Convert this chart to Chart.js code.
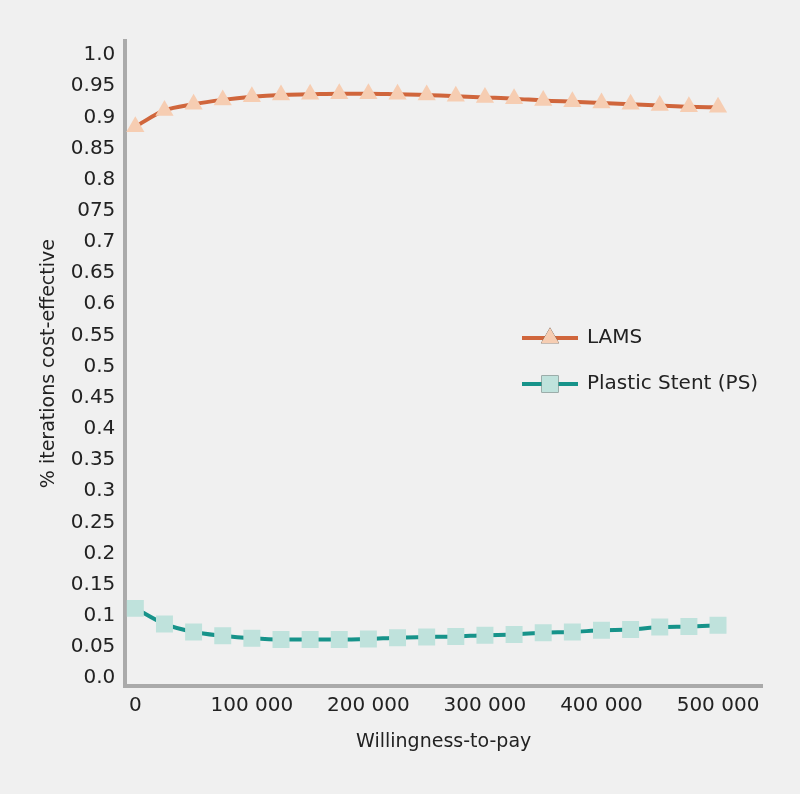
<!DOCTYPE html>
<html>
<head>
<meta charset="utf-8">
<script src="https://cdn.jsdelivr.net/npm/chart.js@4.4.1/dist/chart.umd.min.js"></script>
<style>
  html, body { margin: 0; padding: 0; background: #f0f0f0; }
  #wrap { width: 800px; height: 794px; }
</style>
</head>
<body>
<div id="wrap"><canvas id="chart" width="800" height="794"></canvas></div>
<script>
// willingness-to-pay steps
const wtp = [0, 25000, 50000, 75000, 100000, 125000, 150000, 175000, 200000, 225000,
  250000, 275000, 300000, 325000, 350000, 375000, 400000, 425000, 450000, 475000, 500000];

const lams = [0.885, 0.911, 0.921, 0.928, 0.933, 0.936, 0.937, 0.938, 0.938, 0.937,
  0.936, 0.934, 0.932, 0.930, 0.927, 0.925, 0.923, 0.921, 0.919, 0.917, 0.916];

const plasticStent = [0.112, 0.087, 0.074, 0.068, 0.064, 0.062, 0.062, 0.062, 0.063, 0.065,
  0.066, 0.067, 0.069, 0.070, 0.073, 0.074, 0.077, 0.078, 0.082, 0.083, 0.085];

const yTickValues = [0, 0.05, 0.1, 0.15, 0.2, 0.25, 0.3, 0.35, 0.4, 0.45, 0.5,
  0.55, 0.6, 0.65, 0.7, 0.75, 0.8, 0.85, 0.9, 0.95, 1.0];
const yTickLabels = ["0.0", "0.05", "0.1", "0.15", "0.2", "0.25", "0.3", "0.35", "0.4", "0.45", "0.5",
  "0.55", "0.6", "0.65", "0.7", "075", "0.8", "0.85", "0.9", "0.95", "1.0"];

const xTickValues = [0, 100000, 200000, 300000, 400000, 500000];
const xTickLabels = ["0", "100 000", "200 000", "300 000", "400 000", "500 000"];

const FONT = "'DejaVu Sans', sans-serif";

const toPoints = (vals) => vals.map((v, i) => ({ x: wtp[i], y: v }));

// legend drawn inside the plot, right of centre
const insideLegend = {
  id: "insideLegend",
  afterDatasetsDraw(chart) {
    const { ctx } = chart;
    const x0 = 522, x1 = 578, tx = 587;
    const rows = [338, 384];
    chart.data.datasets.forEach((ds, i) => {
      const y = rows[i];
      ctx.save();
      ctx.strokeStyle = ds.borderColor;
      ctx.lineWidth = ds.borderWidth;
      ctx.beginPath();
      ctx.moveTo(x0, y);
      ctx.lineTo(x1, y);
      ctx.stroke();
      Chart.helpers.drawPoint(ctx, {
        pointStyle: ds.pointStyle,
        radius: ds.pointRadius,
        rotation: 0,
        borderWidth: 0,
      }, (x0 + x1) / 2, y);
      ctx.fillStyle = ds.pointBackgroundColor;
      ctx.fill();
      ctx.fillStyle = "#222";
      ctx.font = "20px " + FONT;
      ctx.textBaseline = "middle";
      ctx.textAlign = "left";
      ctx.fillText(ds.label, tx, y);
      ctx.restore();
    });
  },
};

const bg = {
  id: "bg",
  beforeDraw(chart) {
    const { ctx, width, height } = chart;
    ctx.save();
    ctx.fillStyle = "#f0f0f0";
    ctx.fillRect(0, 0, width, height);
    ctx.restore();
  },
};

new Chart(document.getElementById("chart").getContext("2d"), {
  type: "line",
  data: {
    datasets: [
      {
        label: "LAMS",
        data: toPoints(lams),
        borderColor: "#d0663c",
        borderWidth: 4,
        pointStyle: "triangle",
        pointRadius: 10.5,
        pointBorderWidth: 0,
        pointBackgroundColor: "#f6cdb2",
        pointBorderColor: "#f6cdb2",
        tension: 0.4,
        cubicInterpolationMode: "monotone",
      },
      {
        label: "Plastic Stent (PS)",
        data: toPoints(plasticStent),
        borderColor: "#17938a",
        borderWidth: 4,
        pointStyle: "rect",
        pointRadius: 12,
        pointBorderWidth: 0,
        pointBackgroundColor: "#bfe2dc",
        pointBorderColor: "#bfe2dc",
        tension: 0.4,
        cubicInterpolationMode: "monotone",
      },
    ],
  },
  options: {
    responsive: false,
    animation: false,
    layout: { padding: { left: 38, right: 38, top: 41, bottom: 41 } },
    plugins: {
      legend: { display: false },
      tooltip: { enabled: false },
    },
    scales: {
      x: {
        type: "linear",
        min: -8576,
        max: 537736,
        afterBuildTicks: (scale) => {
          scale.ticks = xTickValues.map((v) => ({ value: v }));
        },
        grid: { display: false, drawTicks: false },
        border: { display: true, color: "#aaaaaa", width: 4 },
        ticks: {
          color: "#222",
          font: { family: FONT, size: 20 },
          padding: 8,
          maxRotation: 0,
          autoSkip: false,
          callback: (v) => xTickLabels[xTickValues.indexOf(v)],
        },
        title: {
          display: true,
          text: "Willingness-to-pay",
          color: "#222",
          font: { family: FONT, size: 19 },
          padding: { top: 4, bottom: 0 },
        },
      },
      y: {
        type: "linear",
        min: -0.0129,
        max: 1.0225,
        afterBuildTicks: (scale) => {
          scale.ticks = yTickValues.map((v) => ({ value: v }));
        },
        grid: { display: false, drawTicks: false },
        border: { display: true, color: "#aaaaaa", width: 4 },
        ticks: {
          color: "#222",
          font: { family: FONT, size: 20 },
          padding: 10,
          autoSkip: false,
          callback: (v) => {
            const i = yTickValues.findIndex((t) => Math.abs(t - v) < 1e-9);
            return i >= 0 ? yTickLabels[i] : "";
          },
        },
        title: {
          display: true,
          text: "% iterations cost-effective",
          color: "#222",
          font: { family: FONT, size: 19 },
          padding: { top: 0, bottom: 0 },
        },
      },
    },
  },
  plugins: [bg, insideLegend],
});
</script>
</body>
</html>
